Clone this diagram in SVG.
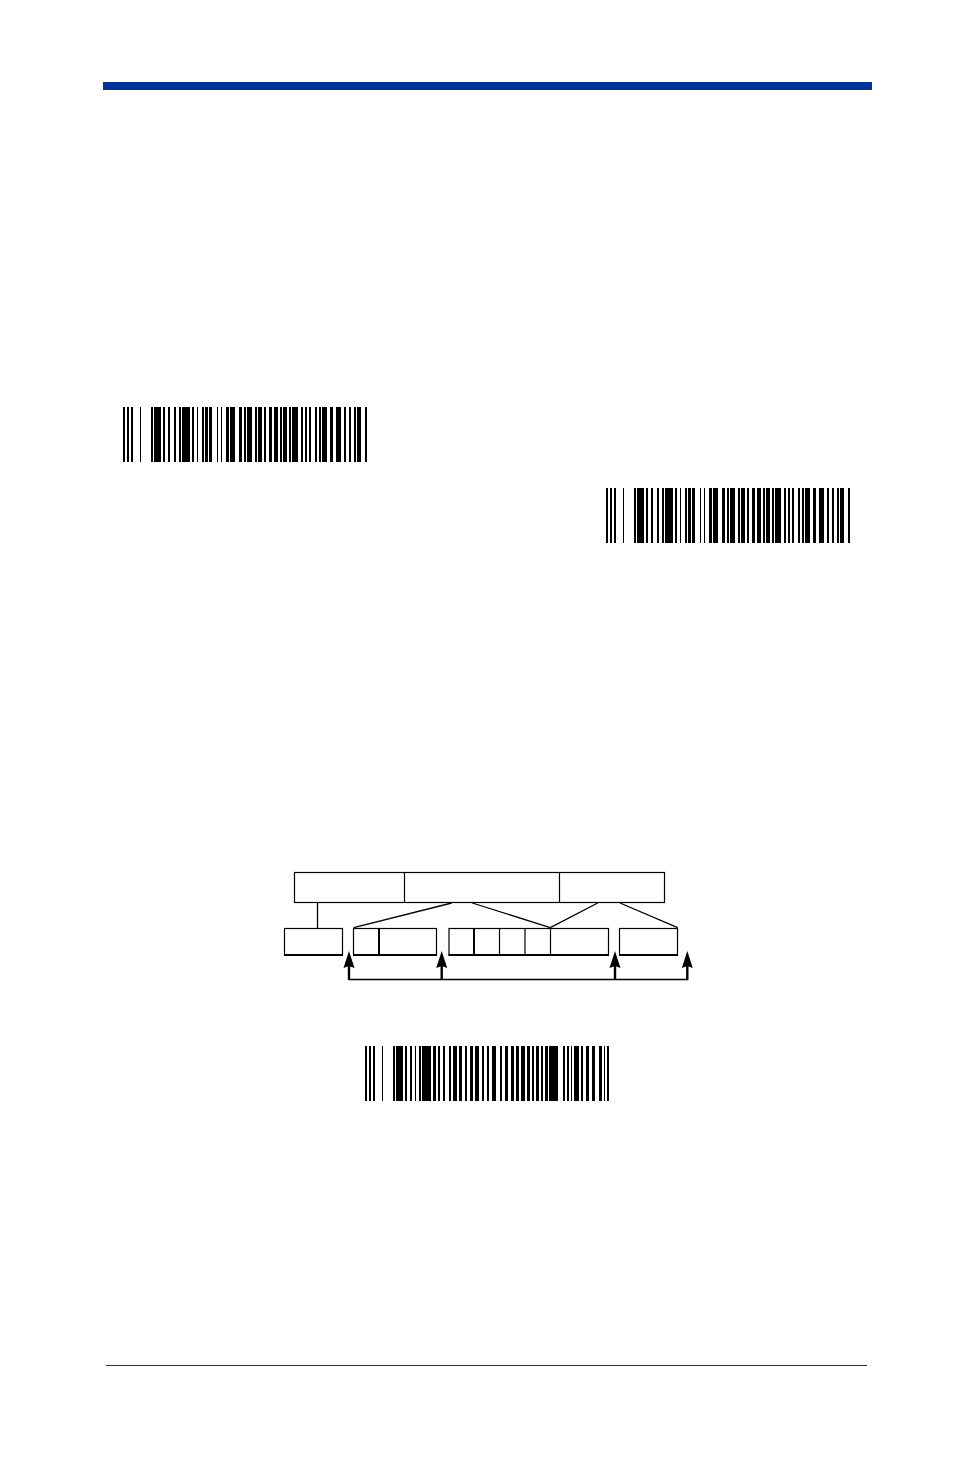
<svg xmlns="http://www.w3.org/2000/svg" width="954" height="1474" viewBox="0 0 954 1474">
<style>
.bar{fill:#000}
.box{fill:#fff;stroke:#000;stroke-width:1.2}
.div{stroke:#000;stroke-width:1.2}
.thick{stroke:#000;stroke-width:2}
.base{stroke:#000;stroke-width:2}
.conn{stroke:#000;stroke-width:1.3;fill:none}
.stem{stroke:#000;stroke-width:2.4;fill:none}
.head{fill:#000}
</style>
<defs>
<path id="ah" class="head" d="M0 0 L5.5 17 L0 15 L-5.5 17 Z"/>
<g id="bc1">
<rect class="bar" x="0" y="0" width="2" height="55"/>
<rect class="bar" x="4" y="0" width="2" height="55"/>
<rect class="bar" x="8" y="0" width="2" height="55"/>
<rect class="bar" x="17" y="0" width="1" height="55"/>
<rect class="bar" x="28" y="0" width="2" height="55"/>
<rect class="bar" x="31" y="0" width="7" height="55"/>
<rect class="bar" x="40" y="0" width="2" height="55"/>
<rect class="bar" x="45" y="0" width="2" height="55"/>
<rect class="bar" x="51" y="0" width="2" height="55"/>
<rect class="bar" x="56" y="0" width="2" height="55"/>
<rect class="bar" x="59" y="0" width="8" height="55"/>
<rect class="bar" x="69" y="0" width="2" height="55"/>
<rect class="bar" x="74" y="0" width="1" height="55"/>
<rect class="bar" x="79" y="0" width="2" height="55"/>
<rect class="bar" x="82" y="0" width="3" height="55"/>
<rect class="bar" x="86" y="0" width="3" height="55"/>
<rect class="bar" x="94" y="0" width="1" height="55"/>
<rect class="bar" x="98" y="0" width="1" height="55"/>
<rect class="bar" x="103" y="0" width="3" height="55"/>
<rect class="bar" x="107" y="0" width="5" height="55"/>
<rect class="bar" x="116" y="0" width="3" height="55"/>
<rect class="bar" x="121" y="0" width="2" height="55"/>
<rect class="bar" x="124" y="0" width="5" height="55"/>
<rect class="bar" x="132" y="0" width="2" height="55"/>
<rect class="bar" x="135" y="0" width="4" height="55"/>
<rect class="bar" x="141" y="0" width="2" height="55"/>
<rect class="bar" x="146" y="0" width="3" height="55"/>
<rect class="bar" x="151" y="0" width="4" height="55"/>
<rect class="bar" x="157" y="0" width="2" height="55"/>
<rect class="bar" x="160" y="0" width="4" height="55"/>
<rect class="bar" x="166" y="0" width="2" height="55"/>
<rect class="bar" x="169" y="0" width="6" height="55"/>
<rect class="bar" x="178" y="0" width="2" height="55"/>
<rect class="bar" x="182" y="0" width="2" height="55"/>
<rect class="bar" x="186" y="0" width="2" height="55"/>
<rect class="bar" x="192" y="0" width="2" height="55"/>
<rect class="bar" x="196" y="0" width="2" height="55"/>
<rect class="bar" x="199" y="0" width="5" height="55"/>
<rect class="bar" x="207" y="0" width="3" height="55"/>
<rect class="bar" x="213" y="0" width="5" height="55"/>
<rect class="bar" x="221" y="0" width="2" height="55"/>
<rect class="bar" x="226" y="0" width="2" height="55"/>
<rect class="bar" x="231" y="0" width="2" height="55"/>
<rect class="bar" x="234" y="0" width="4" height="55"/>
<rect class="bar" x="242" y="0" width="2" height="55"/>
</g>
<g id="bc3">
<rect class="bar" x="0" y="0" width="2" height="55"/>
<rect class="bar" x="4" y="0" width="2" height="55"/>
<rect class="bar" x="8" y="0" width="2" height="55"/>
<rect class="bar" x="17" y="0" width="1" height="55"/>
<rect class="bar" x="28" y="0" width="2" height="55"/>
<rect class="bar" x="31" y="0" width="7" height="55"/>
<rect class="bar" x="40" y="0" width="2" height="55"/>
<rect class="bar" x="45" y="0" width="2" height="55"/>
<rect class="bar" x="50" y="0" width="1" height="55"/>
<rect class="bar" x="54" y="0" width="2" height="55"/>
<rect class="bar" x="57" y="0" width="9" height="55"/>
<rect class="bar" x="68" y="0" width="3" height="55"/>
<rect class="bar" x="73" y="0" width="2" height="55"/>
<rect class="bar" x="78" y="0" width="2" height="55"/>
<rect class="bar" x="84" y="0" width="2" height="55"/>
<rect class="bar" x="88" y="0" width="4" height="55"/>
<rect class="bar" x="94" y="0" width="3" height="55"/>
<rect class="bar" x="100" y="0" width="2" height="55"/>
<rect class="bar" x="105" y="0" width="3" height="55"/>
<rect class="bar" x="110" y="0" width="4" height="55"/>
<rect class="bar" x="117" y="0" width="2" height="55"/>
<rect class="bar" x="122" y="0" width="2" height="55"/>
<rect class="bar" x="127" y="0" width="4" height="55"/>
<rect class="bar" x="135" y="0" width="2" height="55"/>
<rect class="bar" x="140" y="0" width="3" height="55"/>
<rect class="bar" x="146" y="0" width="3" height="55"/>
<rect class="bar" x="151" y="0" width="3" height="55"/>
<rect class="bar" x="156" y="0" width="4" height="55"/>
<rect class="bar" x="162" y="0" width="3" height="55"/>
<rect class="bar" x="167" y="0" width="2" height="55"/>
<rect class="bar" x="171" y="0" width="3" height="55"/>
<rect class="bar" x="176" y="0" width="2" height="55"/>
<rect class="bar" x="180" y="0" width="3" height="55"/>
<rect class="bar" x="184" y="0" width="9" height="55"/>
<rect class="bar" x="198" y="0" width="2" height="55"/>
<rect class="bar" x="202" y="0" width="2" height="55"/>
<rect class="bar" x="206" y="0" width="1" height="55"/>
<rect class="bar" x="209" y="0" width="5" height="55"/>
<rect class="bar" x="216" y="0" width="2" height="55"/>
<rect class="bar" x="221" y="0" width="3" height="55"/>
<rect class="bar" x="227" y="0" width="3" height="55"/>
<rect class="bar" x="234" y="0" width="3" height="55"/>
<rect class="bar" x="239" y="0" width="1" height="55"/>
<rect class="bar" x="242" y="0" width="2" height="55"/>
</g>
</defs>
<rect id="header-bar" x="103" y="82" width="769" height="8" fill="#003399"/>
<line id="footer-rule" x1="106" y1="1365.5" x2="867" y2="1365.5" stroke="#003399" stroke-width="1"/>
<g id="barcode1"><use href="#bc1" x="123" y="407"/></g>
<g id="barcode2"><use href="#bc1" x="606" y="488"/></g>
<g id="barcode3"><use href="#bc3" x="365" y="1046"/></g>
<g id="top-record">
<rect class="box" x="294.5" y="872.5" width="370" height="30"/>
<line class="div" x1="404.5" y1="872.5" x2="404.5" y2="902.5"/>
<line class="div" x1="559.5" y1="872.5" x2="559.5" y2="902.5"/>
</g>
<g id="field1">
<rect class="box" x="284.5" y="928.5" width="58" height="26.5"/>
<line class="base" x1="284" y1="955" x2="343" y2="955"/>
</g>
<g id="field2">
<rect class="box" x="353.5" y="928.5" width="83" height="26.5"/>
<line class="thick" x1="379" y1="928.5" x2="379" y2="955"/>
<line class="base" x1="353" y1="955" x2="437" y2="955"/>
</g>
<g id="field3">
<rect class="box" x="449" y="928.5" width="159.5" height="26.5"/>
<line class="thick" x1="474" y1="928.5" x2="474" y2="955"/>
<line class="div" x1="499.5" y1="928.5" x2="499.5" y2="955"/>
<line class="div" x1="525" y1="928.5" x2="525" y2="955"/>
<line class="div" x1="550.5" y1="928.5" x2="550.5" y2="955"/>
<line class="base" x1="448.5" y1="955" x2="609" y2="955"/>
</g>
<g id="field4">
<rect class="box" x="619.5" y="928.5" width="58" height="26.5"/>
<line class="base" x1="619" y1="955" x2="678" y2="955"/>
</g>
<g id="connectors">
<line class="conn" x1="317.5" y1="902.5" x2="317.5" y2="928"/>
<line class="conn" x1="353.7" y1="927.7" x2="451.7" y2="903"/>
<line class="conn" x1="472.3" y1="903" x2="550.3" y2="927.7"/>
<line class="conn" x1="550.3" y1="927.7" x2="597.7" y2="903"/>
<line class="conn" x1="620" y1="903" x2="677.7" y2="927.7"/>
<line class="conn" x1="348.5" y1="979.5" x2="688" y2="979.5"/>
<line class="stem" x1="349" y1="980" x2="349" y2="964"/>
<line class="stem" x1="441.7" y1="980" x2="441.7" y2="964"/>
<line class="stem" x1="615" y1="980" x2="615" y2="964"/>
<line class="stem" x1="687.3" y1="980" x2="687.3" y2="964"/>
<use href="#ah" x="349" y="951"/>
<use href="#ah" x="441.7" y="951"/>
<use href="#ah" x="615" y="951"/>
<use href="#ah" x="687.3" y="951"/>
</g>
</svg>
